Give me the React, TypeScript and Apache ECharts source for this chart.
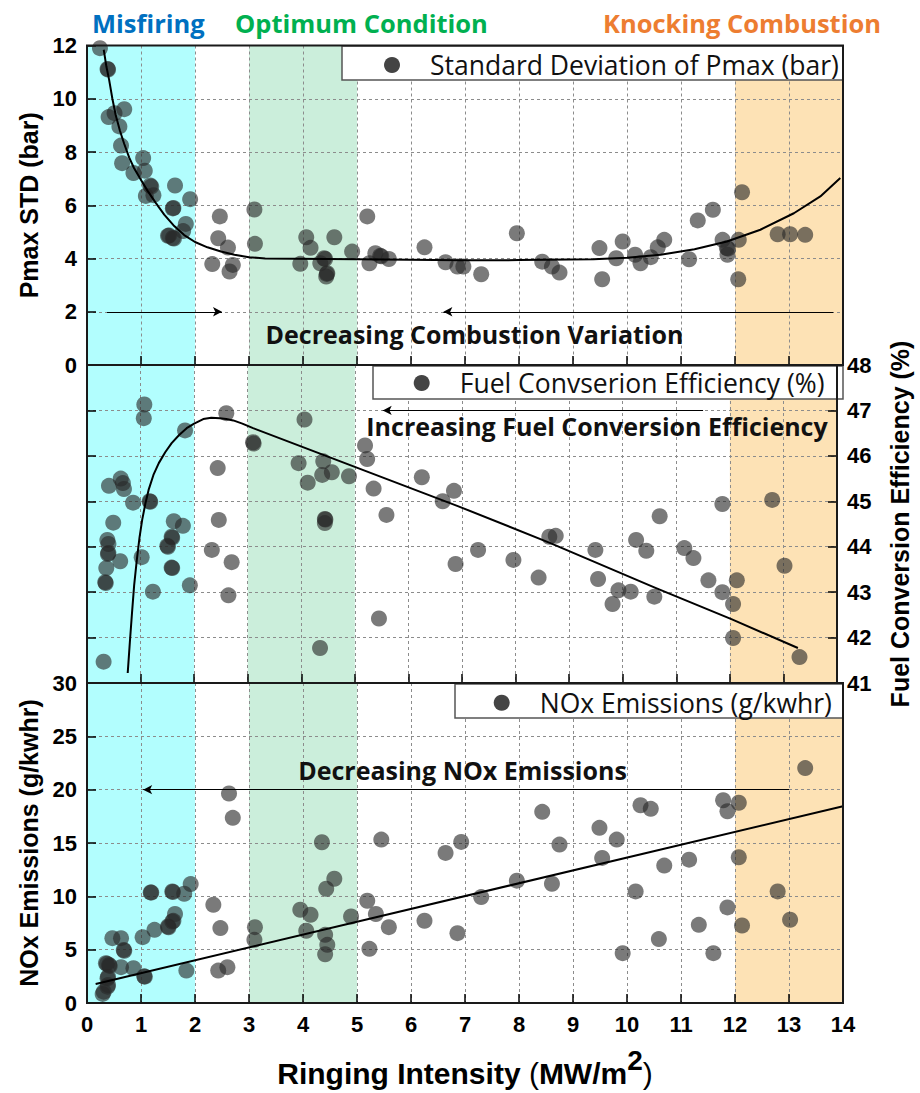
import React, { useEffect, useRef } from "react";
import * as echarts from "echarts";

// ---------- data ----------
const xTickMin = 0;
const xTickMax = 14;

const pmaxStd: [number, number][] = [
  [0.24, 11.9], [0.38, 11.12], [0.39, 11.1], [0.40, 9.31], [0.51, 9.46], [0.69, 9.61], [0.60, 8.96],
  [0.63, 8.24], [0.65, 7.58], [0.86, 7.21], [1.04, 7.77], [1.07, 7.30], [1.17, 6.74], [1.19, 6.7],
  [1.09, 6.35], [1.23, 6.38], [1.63, 6.74], [1.59, 5.88], [1.60, 5.9], [1.91, 6.23], [1.50, 4.85],
  [1.52, 4.86], [1.59, 4.77], [1.61, 4.75], [1.83, 5.30], [1.78, 5.03], [2.46, 5.58], [2.43, 4.76],
  [2.61, 4.41], [2.32, 3.79], [2.70, 3.76], [2.64, 3.51], [3.10, 5.84], [3.11, 4.55], [4.06, 4.80],
  [4.14, 4.40], [3.95, 3.80], [4.39, 4.01], [4.41, 3.98], [4.32, 3.82], [4.44, 3.42], [4.45, 3.45],
  [4.43, 3.32], [4.58, 4.80], [4.91, 4.26], [5.19, 5.58], [5.23, 3.82], [5.34, 4.20], [5.43, 4.10],
  [5.45, 4.08], [5.59, 3.98], [6.25, 4.42], [6.64, 3.86], [6.86, 3.70], [6.97, 3.70], [7.30, 3.41],
  [7.96, 4.95], [8.43, 3.88], [8.61, 3.70], [8.75, 3.47], [9.49, 4.39], [9.54, 3.22], [9.80, 4.01],
  [9.92, 4.64], [10.15, 4.14], [10.25, 3.82], [10.44, 4.05], [10.57, 4.42], [10.69, 4.70], [11.15, 3.97],
  [11.31, 5.43], [11.59, 5.83], [11.77, 4.70], [11.85, 4.39], [11.87, 4.37], [11.86, 4.14], [12.07, 4.70],
  [12.13, 6.49], [12.06, 3.22], [12.79, 4.91], [13.02, 4.91], [13.30, 4.89],
];

const pmaxFit: [number, number][] = [
  [0.31, 11.84], [0.36, 11.2], [0.41, 10.71], [0.47, 10.0], [0.53, 9.4], [0.61, 8.8], [0.69, 8.3],
  [0.78, 7.8], [0.87, 7.4], [1.0, 6.95], [1.12, 6.55], [1.27, 6.1], [1.43, 5.65], [1.6, 5.25],
  [1.8, 4.88], [2.0, 4.62], [2.23, 4.42], [2.48, 4.26], [2.73, 4.14], [3.0, 4.05], [3.3, 4.0],
  [5.0, 3.97], [6.91, 3.93], [8.0, 3.94], [9.38, 3.97], [10.0, 4.03], [10.62, 4.14], [11.25, 4.35],
  [11.85, 4.64], [12.47, 5.08], [13.09, 5.7], [13.58, 6.33], [13.95, 7.02],
];

const fuelEff: [number, number][] = [
  [1.07, 47.13], [1.06, 46.83], [1.83, 46.56], [2.60, 46.94], [4.06, 46.80], [3.10, 46.30], [3.11, 46.27],
  [5.19, 46.23], [5.23, 45.93], [2.44, 45.73], [3.95, 45.84], [4.41, 45.88], [4.39, 45.58], [4.57, 45.64],
  [4.12, 45.41], [4.89, 45.55], [5.35, 45.28], [6.25, 45.53], [6.64, 45.00], [6.85, 45.23], [5.59, 44.70],
  [4.44, 44.61], [4.45, 44.60], [4.44, 44.52], [5.45, 42.42], [4.35, 41.77], [6.88, 43.62], [0.41, 45.34],
  [0.63, 45.50], [0.67, 45.40], [0.69, 45.27], [0.86, 44.97], [1.17, 45.00], [1.18, 44.99], [0.49, 44.53],
  [0.38, 44.15], [0.40, 44.06], [0.39, 43.84], [0.40, 43.86], [0.62, 43.68], [0.36, 43.53], [0.34, 43.22],
  [0.35, 43.2], [1.02, 43.77], [1.23, 43.01], [1.62, 44.56], [1.79, 44.46], [1.58, 44.22], [1.59, 44.2],
  [1.50, 44.02], [1.51, 44.0], [1.58, 43.54], [1.59, 43.53], [1.92, 43.15], [2.46, 44.59], [2.33, 43.93],
  [2.70, 43.66], [2.64, 42.93], [0.31, 41.47], [7.30, 43.93], [7.96, 43.71], [8.43, 43.32], [8.63, 44.22],
  [8.75, 44.24], [9.49, 43.93], [9.54, 43.29], [9.81, 42.74], [9.92, 43.04], [10.15, 43.01], [10.25, 44.15],
  [10.44, 43.91], [10.59, 42.90], [10.69, 44.67], [11.15, 43.97], [11.32, 43.75], [11.60, 43.26],
  [11.86, 44.94], [11.86, 43.00], [12.06, 42.74], [12.13, 43.26], [12.06, 41.99], [12.79, 45.03],
  [13.02, 43.58], [13.30, 41.57],
];

const fuelFit: [number, number][] = [
  [0.76, 41.22], [0.80, 41.9], [0.84, 42.54], [0.88, 43.15], [0.93, 43.71], [0.98, 44.2], [1.03, 44.59],
  [1.09, 44.95], [1.15, 45.25], [1.24, 45.58], [1.34, 45.84], [1.46, 46.08], [1.58, 46.28], [1.72, 46.46],
  [1.86, 46.61], [2.0, 46.71], [2.17, 46.81], [2.32, 46.84], [2.48, 46.83], [2.6, 46.81], [2.73, 46.78],
  [2.9, 46.71], [3.10, 46.61], [4.08, 46.17], [4.57, 45.95], [6.91, 44.9], [8.65, 44.08], [10.6, 43.1],
  [12.04, 42.4], [13.27, 41.77],
];

const noxEm: [number, number][] = [
  [0.29, 0.85], [0.31, 1.06], [0.38, 1.53], [0.39, 1.69], [0.38, 2.32], [0.39, 2.47], [0.35, 3.73],
  [0.37, 3.67], [0.41, 3.57], [0.42, 3.48], [0.47, 6.08], [0.63, 6.08], [0.68, 4.98], [0.69, 4.9],
  [0.63, 3.36], [0.86, 3.26], [1.07, 2.47], [1.06, 2.5], [1.03, 6.17], [1.25, 6.86], [1.18, 10.37],
  [1.19, 10.35], [1.58, 10.46], [1.59, 10.4], [1.80, 10.24], [1.92, 11.15], [1.63, 8.34], [1.58, 7.64],
  [1.6, 7.7], [1.50, 7.17], [1.51, 7.1], [1.84, 3.04], [2.34, 9.21], [2.47, 7.02], [2.63, 19.64],
  [2.70, 17.36], [2.43, 3.04], [2.60, 3.36], [3.11, 7.11], [3.10, 5.92], [3.95, 8.74], [4.14, 8.27],
  [4.06, 6.77], [4.35, 15.07], [4.43, 10.71], [4.58, 11.65], [4.41, 6.39], [4.45, 5.45], [4.41, 4.57],
  [4.89, 8.11], [5.19, 9.59], [5.23, 5.08], [5.35, 8.34], [5.45, 15.32], [5.59, 7.11], [6.25, 7.71],
  [6.64, 14.07], [6.86, 6.55], [6.93, 15.10], [7.30, 9.93], [7.96, 11.47], [8.43, 17.92], [8.61, 11.18],
  [8.75, 14.85], [9.49, 16.42], [9.54, 13.60], [9.81, 15.32], [9.92, 4.67], [10.16, 10.46], [10.25, 18.54],
  [10.44, 18.20], [10.59, 5.99], [10.69, 12.88], [11.15, 13.44], [11.33, 7.33], [11.60, 4.67],
  [11.78, 19.01], [11.86, 17.98], [11.86, 8.96], [12.07, 18.77], [12.07, 13.66], [12.13, 7.27],
  [12.79, 10.46], [13.02, 7.80], [13.30, 22.02],
];

const noxFit: [number, number][] = [[0.16, 1.79], [14, 18.45]];

// regime bands (x ranges)
const bandMisfiring: [number, number] = [0, 2];
const bandOptimum: [number, number] = [3, 5];
const bandKnocking: [number, number] = [12, 14];

// arrows [x1, y1, x2, y2]
const arrowsTop: [number, number, number, number][] = [[0.37, 2, 2.5, 2], [13.82, 2, 6.6, 2]];
const arrowsMid: [number, number, number, number][] = [[11.5, 47, 5.52, 47]];
const arrowsBot: [number, number, number, number][] = [[13.0, 20, 1.04, 20]];

const nameTop = "Standard Deviation of Pmax (bar)";
const nameMid = "Fuel Convserion Efficiency (%)";
const nameBot = "NOx Emissions (g/kwhr)";

// ---------- styling ----------
const NUM_FONT = "Liberation Sans";
const TXT_FONT = "Open Sans";
const DOT = { color: "#282828", opacity: 0.62 };

const GL = 87, GR = 77;

const xAxisBase = (i: number, showLabel: boolean) => ({
  type: "value",
  gridIndex: i,
  min: xTickMin,
  max: xTickMax,
  interval: 1,
  z: 2,
  axisLine: { show: false },
  axisTick: { show: true, inside: true, length: 9, lineStyle: { color: "#000", width: 1.5 } },
  axisLabel: { show: showLabel, fontSize: 22, fontWeight: "bold", color: "#000", margin: 10, fontFamily: NUM_FONT },
  splitLine: { show: true, lineStyle: { color: "#8c8c8c", type: [3, 3], width: 1 } },
});

const yAxisBase = (i: number, min: number, max: number, interval: number) => ({
  type: "value",
  gridIndex: i,
  min,
  max,
  interval,
  z: 2,
  axisLine: { show: false },
  axisTick: { show: true, inside: true, length: 9, lineStyle: { color: "#000", width: 1.5 } },
  axisLabel: { show: true, fontSize: 22, fontWeight: "bold", color: "#000", margin: 10, fontFamily: NUM_FONT },
  splitLine: { show: true, lineStyle: { color: "#8c8c8c", type: [3, 3], width: 1 } },
  nameLocation: "middle",
  nameRotate: 90,
  nameTextStyle: { fontSize: 25, fontWeight: "bold", color: "#000", fontFamily: NUM_FONT },
});

const bands = (xi: number, yi: number) => ({
  type: "scatter",
  xAxisIndex: xi,
  yAxisIndex: yi,
  data: [],
  z: 1,
  silent: true,
  markArea: {
    silent: true,
    data: [
      [{ xAxis: bandMisfiring[0], itemStyle: { color: "#b2fefe", opacity: 1 } }, { xAxis: bandMisfiring[1] }],
      [{ xAxis: bandOptimum[0], itemStyle: { color: "#cbeedb", opacity: 1 } }, { xAxis: bandOptimum[1] }],
      [{ xAxis: bandKnocking[0], itemStyle: { color: "#fde2b5", opacity: 1 } }, { xAxis: bandKnocking[1] }],
    ],
  },
});

const arrowLines = (arr: [number, number, number, number][]) => ({
  silent: true,
  symbol: ["none", "arrow"],
  symbolSize: [7, 9],
  label: { show: false },
  lineStyle: { color: "#000", width: 1, type: "solid" },
  emphasis: { disabled: true },
  data: arr.map((a) => [{ coord: [a[0], a[1]] }, { coord: [a[2], a[3]] }]),
});

const fitLine = (xi: number, yi: number, data: [number, number][], arrows: [number, number, number, number][]) => ({
  type: "line",
  name: "fit" + xi,
  xAxisIndex: xi,
  yAxisIndex: yi,
  data,
  z: 4,
  smooth: false,
  showSymbol: false,
  symbol: "none",
  lineStyle: { color: "#000", width: 2, join: "round" },
  silent: true,
  markLine: arrowLines(arrows),
});

const dots = (name: string, xi: number, yi: number, data: [number, number][]) => ({
  type: "scatter",
  name,
  xAxisIndex: xi,
  yAxisIndex: yi,
  data,
  z: 3,
  symbolSize: 16,
  itemStyle: DOT,
});

const legendBase = (name: string, cx: number, cy: number) => ({
  data: [name],
  left: cx - 8,
  top: cy - 15,
  padding: 0,
  icon: "circle",
  itemWidth: 16,
  itemHeight: 16,
  selectedMode: false,
  z: 6,
  itemStyle: { color: "#444", opacity: 1 },
  textStyle: { fontSize: 26.5, fontFamily: TXT_FONT, color: "#111", padding: [0, 0, 0, 25], lineHeight: 30 },
});

const txt = (text: string, x: number, y: number, fill: string, font: string, align = "center") => ({
  type: "text",
  x,
  y,
  z: 7,
  silent: true,
  style: { text, fill, font, align, verticalAlign: "middle" },
});

const option: any = {
  animation: false,
  backgroundColor: "#fff",
  grid: [
    { left: GL, right: GR, top: 45.5, height: 319.5, show: true, z: 10, borderColor: "#1a1a1a", borderWidth: 2, backgroundColor: "transparent" },
    { left: GL, right: GR, top: 365, height: 318, show: true, z: 10, borderColor: "#1a1a1a", borderWidth: 2, backgroundColor: "transparent" },
    { left: GL, right: GR, top: 683, height: 320, show: true, z: 10, borderColor: "#1a1a1a", borderWidth: 2, backgroundColor: "transparent" },
  ],
  xAxis: [
    xAxisBase(0, false),
    xAxisBase(1, false),
    {
      ...xAxisBase(2, true),
      name: "{b|Ringing Intensity }{p|(}{b|MW/m}{s|2}{p|)}",
      nameLocation: "middle",
      nameGap: 43,
      nameTextStyle: {
        rich: {
          b: { fontSize: 30, fontWeight: "bold", fontFamily: NUM_FONT, color: "#000", lineHeight: 54 },
          p: { fontSize: 30, fontWeight: "normal", fontFamily: NUM_FONT, color: "#000", lineHeight: 54 },
          s: { fontSize: 28, fontWeight: "bold", fontFamily: NUM_FONT, color: "#000", verticalAlign: "top" },
        },
      },
    },
  ],
  yAxis: [
    { ...yAxisBase(0, 0, 12, 2), name: "Pmax STD (bar)", nameGap: 42 },
    { ...yAxisBase(1, 41, 48, 1), position: "left", axisLabel: { show: false }, splitLine: { show: false } },
    { ...yAxisBase(1, 41, 48, 1), position: "right", name: "Fuel Conversion Efficiency (%)", nameGap: 50 },
    { ...yAxisBase(2, 0, 30, 5), name: "NOx Emissions (g/kwhr)", nameGap: 46 },
  ],
  legend: [legendBase(nameTop, 392, 65), legendBase(nameMid, 421.7, 383), legendBase(nameBot, 501.7, 702.7)],
  graphic: [
    { type: "rect", z: 5, silent: true, shape: { x: 342, y: 46, width: 501, height: 34 }, style: { fill: "#fff", stroke: "#555", lineWidth: 1.5 } },
    { type: "rect", z: 5, silent: true, shape: { x: 373, y: 366, width: 470, height: 33 }, style: { fill: "#fff", stroke: "#555", lineWidth: 1.5 } },
    { type: "rect", z: 5, silent: true, shape: { x: 455, y: 684, width: 388, height: 34 }, style: { fill: "#fff", stroke: "#555", lineWidth: 1.5 } },
    txt("Misfiring", 92, 23, "#0070C0", `bold 25.5px "${TXT_FONT}"`, "left"),
    txt("Optimum Condition", 235, 23, "#00B050", `bold 25.5px "${TXT_FONT}"`, "left"),
    txt("Knocking Combustion", 603, 23, "#ED7D31", `bold 25.5px "${TXT_FONT}"`, "left"),
    txt("Decreasing Combustion Variation", 474.5, 334, "#111", `bold 25px "${TXT_FONT}"`),
    txt("Increasing Fuel Conversion Efficiency", 597, 426, "#111", `bold 25px "${TXT_FONT}"`),
    txt("Decreasing NOx Emissions", 462.5, 770, "#111", `bold 25px "${TXT_FONT}"`),
  ],
  series: [
    bands(0, 0),
    dots(nameTop, 0, 0, pmaxStd),
    fitLine(0, 0, pmaxFit, arrowsTop),
    bands(1, 2),
    dots(nameMid, 1, 2, fuelEff),
    fitLine(1, 2, fuelFit, arrowsMid),
    bands(2, 3),
    dots(nameBot, 2, 3, noxEm),
    fitLine(2, 3, noxFit, arrowsBot),
  ],
};

export default function App() {
  const ref = useRef<HTMLDivElement>(null);
  useEffect(() => {
    if (!ref.current) return;
    const chart = echarts.init(ref.current, null, { renderer: "svg" });
    chart.setOption(option);
    return () => chart.dispose();
  }, []);
  return (
    <div
      ref={ref}
      style={{ position: "fixed", left: 0, top: 0, width: 920, height: 1093, background: "#fff" }}
    />
  );
}
